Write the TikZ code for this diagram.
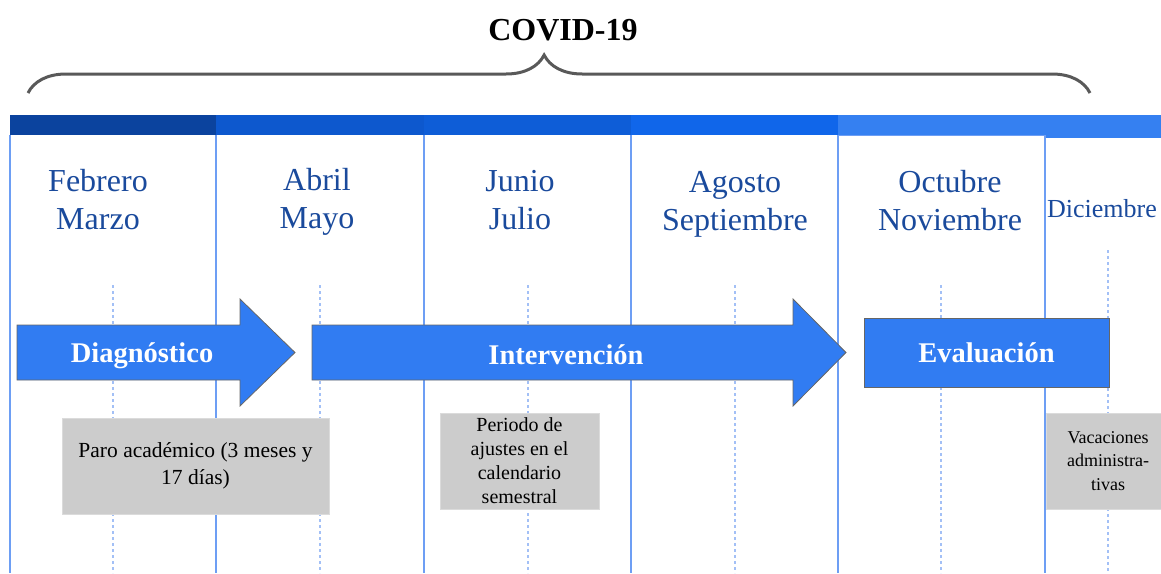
\documentclass[tikz,border=0pt]{standalone}
\usepackage{fontspec}
\setmainfont{Liberation Serif}
\usetikzlibrary{decorations.pathreplacing}
\definecolor{barA}{HTML}{0B439E}
\definecolor{barB}{HTML}{0D58CE}
\definecolor{barC}{HTML}{0E5DD7}
\definecolor{barD}{HTML}{1066EA}
\definecolor{barE}{HTML}{3580F1}
\definecolor{monthblue}{HTML}{1A4A9C}
\definecolor{colblue}{HTML}{6D9EF4}
\definecolor{dotblue}{HTML}{A3C0F6}
\definecolor{phaseblue}{HTML}{317CF2}

\begin{document}
\begin{tikzpicture}[x=1pt,y=-1pt,
    monthlbl/.style={text=monthblue,align=center,font=\fontsize{32}{38}\selectfont},
    phaselbl/.style={text=white,font=\bfseries\fontsize{28.5}{34}\selectfont},
    phasefill/.style={fill=phaseblue,draw=black!60,line width=0.8pt},
    notebox/.style={fill=black!20,draw=black!14,align=center,inner sep=0pt,minimum height=96}]
  \clip (0,0) rectangle (1161,573);
  % header bar and columns
  \foreach \a/\b/\c in {10/216/barA,216/424/barB,424/631/barC,631/838/barD,838/1045/barE}
    \fill[\c] (\a,115) rectangle (\b,135);
  \fill[barE] (1045,115) rectangle (1170,138);
  \draw[colblue,line width=1pt] (838,135.5) -- (1045,135.5);
  \foreach \x in {10,216,424,631,838,1045}
    \draw[colblue,line width=1.5pt] (\x,135) -- (\x,573);
  \foreach \x/\s in {113/285,320/285,528/285,735/285,941/285,1108/250}
    \draw[dotblue,line width=1.2pt,dash pattern=on 3pt off 3pt] (\x,\s) -- (\x,573);

  % title and brace
  \node[font=\bfseries\fontsize{32}{38}\selectfont] (covid) at (563,30) {COVID-19};
  \coordinate (braceL) at (28,93);
  \coordinate (braceR) at (1090,93);
  \draw[decorate,decoration={brace,amplitude=38pt,aspect=0.486},line width=3pt,black!65] (braceL) -- (braceR);

  % months
  \node[monthlbl] (febmar) at (98,200) {Febrero\\Marzo};
  \node[monthlbl] (abrmay) at (317,202) {Abril\\Mayo};
  \node[monthlbl] (junjul) at (520,200.5) {Junio\\Julio};
  \node[monthlbl] (agosep) at (735,204) {Agosto\\Septiembre};
  \node[monthlbl] (octnov) at (950,200.5) {Octubre\\Noviembre};
  \node[monthlbl,font=\fontsize{26}{30}\selectfont] (dic) at (1102,209) {Diciembre};

  % phases
  \path[phasefill] (17,325) -- (240,325) -- (240,299) -- (295,352.5) -- (240,406) -- (240,380) -- (17,380) -- cycle;
  \node[phaselbl] (diag) at (142,356) {Diagnóstico};
  \path[phasefill] (312,325) -- (793,325) -- (793,299) -- (846,352.5) -- (793,406) -- (793,380) -- (312,380) -- cycle;
  \node[phaselbl] (interv) at (566,355) {Intervención};
  \node[phaselbl,phasefill,minimum width=245,minimum height=69,text depth=0pt] (eval) at (986.5,352.5) {Evaluación};

  % notes
  \node[notebox,minimum width=267,font=\fontsize{21.5}{27}\selectfont] (paro) at (195.5,466) {Paro académico (3 meses y\\17 días)};
  \node[notebox,minimum width=159,font=\fontsize{20}{24}\selectfont] (ajustes) at (519.5,461) {Periodo de\\ajustes en el\\calendario\\semestral};
  \node[notebox,minimum width=124,font=\fontsize{18}{23.5}\selectfont] (vacas) at (1108,461) {Vacaciones\\administra-\\tivas};
\end{tikzpicture}
\end{document}
